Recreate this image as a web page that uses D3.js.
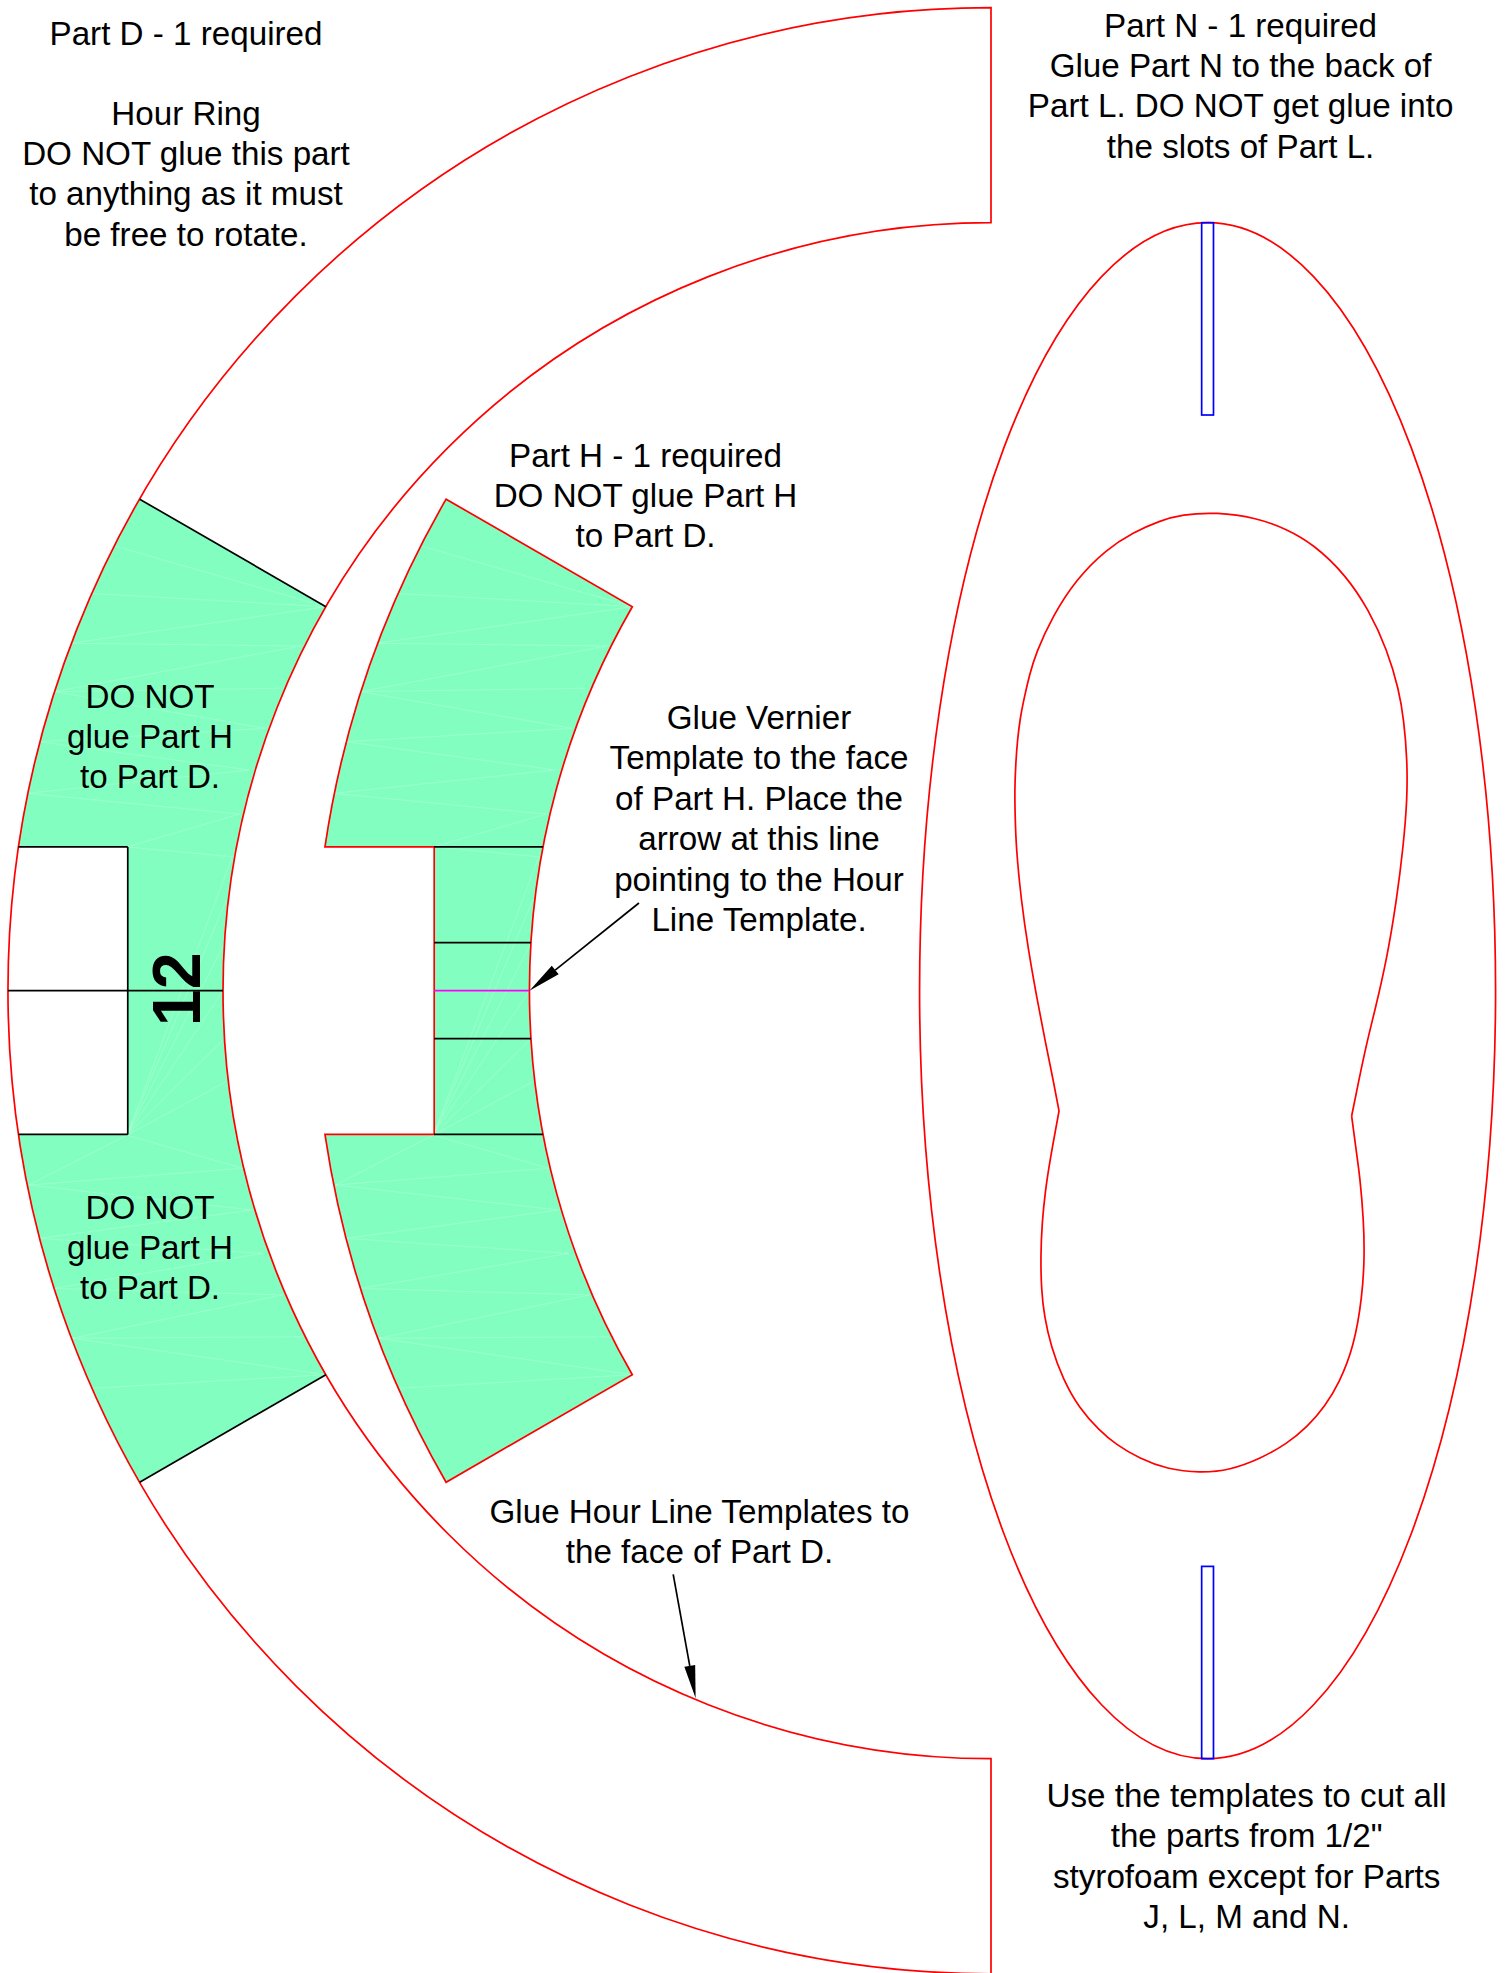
<!DOCTYPE html>
<html>
    <head>
    <meta charset="utf-8">
        <style>
            body { margin: 0; background: white; }
            svg { display: block; }
            text { font-family: "Liberation Sans", Arial, sans-serif; font-size: 33.2px; fill: black; }
        </style>
        <!-- Load d3.js -->
        <script src="https://d3js.org/d3.v7.min.js"></script>
    </head>
    <body>
        <script>
            // all geometry is in drawing inches, origin at the centre of the hour ring, y up
            var ringOuter = 6.4, ringInner = 5;
            var capAngle = 30;            // degrees either side of the 12 o'clock line
            var notchX = -5.62, notchY = 0.936;
            var verniers = [0.3125, -0.3125];
            var partHShift = 1.995;

            // Part N outline
            var partNCentre = [1.41, 0];
            var partNRadii = [1.875, 5];
            var slotHalfWidth = 0.0385;
            var slotEnds = [[5, 3.748], [-3.748, -5]];

            // inner cut-out of Part N, relative to partNCentre, split at the two cusps
            var cutoutUpper = [
                [0.938, -0.816], [0.981, -0.601], [1.036, -0.340], [1.090, -0.126], [1.166, 0.200],
                [1.231, 0.591], [1.274, 0.938], [1.300, 1.242], [1.300, 1.502], [1.278, 1.762],
                [1.246, 1.958], [1.170, 2.218], [1.050, 2.479], [0.897, 2.710], [0.690, 2.906],
                [0.515, 3.006], [0.320, 3.078], [0.059, 3.116], [-0.169, 3.100], [-0.310, 3.060],
                [-0.484, 2.984], [-0.660, 2.873], [-0.856, 2.678], [-1.009, 2.438], [-1.117, 2.200],
                [-1.160, 2.055], [-1.192, 1.914], [-1.219, 1.784], [-1.238, 1.632], [-1.249, 1.480],
                [-1.256, 1.307], [-1.253, 1.144], [-1.247, 0.938], [-1.214, 0.590], [-1.167, 0.265],
                [-1.113, -0.039], [-1.059, -0.321], [-1.005, -0.581], [-0.967, -0.783]
            ];
            var cutoutLower = [
                [-0.967, -0.783], [-1.026, -1.102], [-1.056, -1.298], [-1.078, -1.512], [-1.087, -1.734],
                [-1.082, -1.949], [-1.063, -2.122], [-1.019, -2.318], [-0.943, -2.526], [-0.835, -2.721],
                [-0.703, -2.864], [-0.603, -2.950], [-0.440, -3.048], [-0.266, -3.114], [-0.049, -3.140],
                [0.146, -3.121], [0.341, -3.048], [0.515, -2.950], [0.648, -2.843], [0.768, -2.700],
                [0.855, -2.558], [0.953, -2.318], [1.007, -1.992], [1.022, -1.732], [1.016, -1.493],
                [0.992, -1.211], [0.964, -1.016], [0.938, -0.816]
            ];

            // leader arrows: tail then tip
            var arrows = [
                [[-2.292, 0.571], [-3.005, 0]],
                [[-2.069, -3.80], [-1.923, -4.607]]
            ];

            // faint seams left by the hatch triangulation in the green parts
            var seams = [
                [[-5.710, 2.897], [-4.33, 2.5]], [[-5.872, 2.587], [-4.33, 2.5]], [[-4.33, 2.5], [-5.992, 2.262]],
                [[-5.992, 2.262], [-4.494, 2.244]], [[-4.494, 2.244], [-6.100, 1.947]], [[-6.100, 1.947], [-4.635, 1.969]],
                [[-6.100, 1.947], [-4.722, 1.708]], [[-6.198, 1.621], [-4.722, 1.708]], [[-6.198, 1.621], [-4.831, 1.437]],
                [[-6.274, 1.285], [-4.831, 1.437]], [[-6.274, 1.285], [-4.891, 1.150]], [[-4.891, 1.150], [-5.625, 0.936]],
                [[-5.625, 0.936], [-4.939, 0.872]], [[-5.625, -0.94], [-4.939, 0.872]], [[-5.625, -0.94], [-4.978, 0.59]],
                [[-5.625, -0.94], [-4.99, 0.31]], [[-5.625, -0.94], [-5, 0]], [[-5.625, -0.94], [-5, -0.321]],
                [[-5.625, -0.94], [-4.978, -0.592]], [[-5.625, -0.94], [-6.263, -1.265]], [[-5.625, -0.94], [-4.875, -1.156]],
                [[-6.263, -1.265], [-4.875, -1.156]], [[-6.263, -1.265], [-4.809, -1.428]], [[-6.198, -1.612], [-4.809, -1.428]],
                [[-6.198, -1.612], [-4.745, -1.71]], [[-6.100, -1.938], [-4.745, -1.71]], [[-6.100, -1.938], [-4.613, -1.981]],
                [[-5.981, -2.263], [-4.613, -1.981]], [[-5.981, -2.263], [-4.484, -2.253]], [[-5.981, -2.263], [-4.33, -2.5]],
                [[-5.861, -2.589], [-4.33, -2.5]]
            ];

            var noteD = ["Part D - 1 required", "", "Hour Ring", "DO NOT glue this part", "to anything as it must", "be free to rotate."];
            var noteN = ["Part N - 1 required", "Glue Part N to the back of", "Part L. DO NOT get glue into", "the slots of Part L."];
            var noteH = ["Part H - 1 required", "DO NOT glue Part H", "to Part D."];
            var noteGreen = ["DO NOT", "glue Part H", "to Part D."];
            var noteVernier = ["Glue Vernier", "Template to the face", "of Part H. Place the", "arrow at this line", "pointing to the Hour", "Line Template."];
            var noteHour = ["Glue Hour Line Templates to", "the face of Part D."];
            var noteCut = ["Use the templates to cut all", "the parts from 1/2\"", "styrofoam except for Parts", "J, L, M and N."];
            var hourLabel = "12";

            var width = 1509, height = 1973;
            var red = "#ff0000", blue = "#0000ff", green = "#82ffc0", magenta = "#ff00ff";
            var lineW = 1.7;

            var svg = d3.select("body").append("svg")
                .attr("width", width)
                .attr("height", height);

            // inches to page
            var x = d3.scaleLinear().domain([0, 1]).range([991, 991 + 153.6]);
            var y = d3.scaleLinear().domain([0, 1]).range([990.7, 990.7 - 153.6]);
            var len = d3.scaleLinear().domain([0, 1]).range([0, 153.6]);

            function seg(g, a, b, colour) {
                g.append("line")
                    .attr("x1", x(a[0])).attr("y1", y(a[1]))
                    .attr("x2", x(b[0])).attr("y2", y(b[1]))
                    .attr("stroke", colour)
                    .attr("stroke-width", lineW);
            }

            // the green ring piece with the notch cut in, shifted right by dx inches
            function notchedPiece(dx) {
                var cap = capAngle * Math.PI / 180;
                var a = Math.asin(notchY / ringOuter);
                var p = d3.path();
                p.arc(x(dx), y(0), len(ringOuter), Math.PI + cap, Math.PI + a, true);
                p.lineTo(x(dx + notchX), y(notchY));
                p.lineTo(x(dx + notchX), y(-notchY));
                p.arc(x(dx), y(0), len(ringOuter), Math.PI - a, Math.PI - cap, true);
                p.arc(x(dx), y(0), len(ringInner), Math.PI - cap, Math.PI + cap, false);
                p.closePath();
                return p.toString();
            }

            function seamLines(dx) {
                svg.append("g").selectAll("line")
                    .data(seams)
                    .enter()
                    .append("line")
                    .attr("x1", function(d) { return x(d[0][0] + dx); })
                    .attr("y1", function(d) { return y(d[0][1]); })
                    .attr("x2", function(d) { return x(d[1][0] + dx); })
                    .attr("y2", function(d) { return y(d[1][1]); })
                    .attr("stroke", "white")
                    .attr("stroke-opacity", 0.2)
                    .attr("stroke-width", 1);
            }

            // where a horizontal at height h meets the inner radius
            function innerX(h, dx) {
                return dx - Math.sqrt(ringInner * ringInner - h * h);
            }

            // Part D green area
            svg.append("path").attr("d", notchedPiece(0)).attr("fill", green);
            seamLines(0);

            // Part D outline
            var ring = d3.arc()
                .innerRadius(len(ringInner))
                .outerRadius(len(ringOuter))
                .startAngle(-Math.PI)
                .endAngle(0);
            svg.append("path")
                .attr("d", ring())
                .attr("transform", "translate(" + x(0) + "," + y(0) + ")")
                .attr("fill", "none")
                .attr("stroke", red)
                .attr("stroke-width", lineW);

            // Part D black lines
            var black = svg.append("g");
            var cosCap = Math.cos(capAngle * Math.PI / 180), sinCap = Math.sin(capAngle * Math.PI / 180);
            [1, -1].forEach(function(s) {
                seg(black, [-ringOuter * cosCap, s * ringOuter * sinCap], [-ringInner * cosCap, s * ringInner * sinCap], "black");
                seg(black, [-Math.sqrt(ringOuter * ringOuter - notchY * notchY), s * notchY], [notchX, s * notchY], "black");
            });
            seg(black, [notchX, notchY], [notchX, -notchY], "black");
            seg(black, [-ringOuter, 0], [-ringInner, 0], "black");

            // Part H
            svg.append("path").attr("d", notchedPiece(partHShift)).attr("fill", green);
            seamLines(partHShift);
            svg.append("path")
                .attr("d", notchedPiece(partHShift))
                .attr("fill", "none")
                .attr("stroke", red)
                .attr("stroke-width", lineW);
            var vern = svg.append("g");
            [notchY, -notchY].concat(verniers).forEach(function(h) {
                seg(vern, [partHShift + notchX, h], [innerX(h, partHShift), h], "black");
            });
            seg(vern, [partHShift + notchX, 0], [innerX(0, partHShift), 0], magenta);

            // Part N
            svg.append("ellipse")
                .attr("cx", x(partNCentre[0]))
                .attr("cy", y(partNCentre[1]))
                .attr("rx", len(partNRadii[0]))
                .attr("ry", len(partNRadii[1]))
                .attr("fill", "none")
                .attr("stroke", red)
                .attr("stroke-width", lineW);

            // basis smooths the reading error out of the hand-read points and still ends on the cusps
            var cutoutLine = d3.line()
                .x(function(d) { return x(d[0] + partNCentre[0]); })
                .y(function(d) { return y(d[1] + partNCentre[1]); })
                .curve(d3.curveBasis);
            [cutoutUpper, cutoutLower].forEach(function(pts) {
                svg.append("path")
                    .attr("d", cutoutLine(pts))
                    .attr("fill", "none")
                    .attr("stroke", red)
                    .attr("stroke-width", lineW);
            });

            // the two slots
            svg.selectAll("rect.slot")
                .data(slotEnds)
                .enter()
                .append("rect")
                .attr("class", "slot")
                .attr("x", x(partNCentre[0] - slotHalfWidth))
                .attr("width", len(slotHalfWidth * 2))
                .attr("y", function(d) { return y(d[0]); })
                .attr("height", function(d) { return y(d[1]) - y(d[0]); })
                .attr("fill", "none")
                .attr("stroke", blue)
                .attr("stroke-width", lineW);

            // leaders
            arrows.forEach(function(a) {
                var tx = x(a[0][0]), ty = y(a[0][1]), hx = x(a[1][0]), hy = y(a[1][1]);
                var l = Math.sqrt((hx - tx) * (hx - tx) + (hy - ty) * (hy - ty));
                var ux = (hx - tx) / l, uy = (hy - ty) / l;
                var bx = hx - ux * 33, by = hy - uy * 33;
                svg.append("line")
                    .attr("x1", tx).attr("y1", ty).attr("x2", bx).attr("y2", by)
                    .attr("stroke", "black").attr("stroke-width", lineW);
                svg.append("polygon")
                    .attr("points", [[hx, hy], [bx - uy * 5.5, by + ux * 5.5], [bx + uy * 5.5, by - ux * 5.5]].join(" "))
                    .attr("fill", "black");
            });

            // notes
            function note(lines, cx, baseline, step) {
                svg.append("g").selectAll("text")
                    .data(lines)
                    .enter()
                    .append("text")
                    .attr("x", cx)
                    .attr("y", function(d, i) { return baseline + i * step; })
                    .attr("text-anchor", "middle")
                    .text(function(d) { return d; });
            }
            note(noteD, 186, 44.5, 40.2);
            note(noteN, 1240.6, 37, 40.2);
            note(noteH, 645.5, 467, 40.2);
            note(noteGreen, 150, 707.7, 40);
            note(noteGreen, 150, 1219.3, 40);
            note(noteVernier, 759, 729, 40.4);
            note(noteHour, 699.5, 1523, 40.2);
            note(noteCut, 1246.6, 1807, 40.4);

            svg.append("text")
                .attr("transform", "translate(200,989.3) rotate(-90) scale(0.96,1)")
                .attr("text-anchor", "middle")
                .style("font-size", "69px")
                .style("font-weight", "bold")
                .text(hourLabel);
        </script>
    </body>
</html>
